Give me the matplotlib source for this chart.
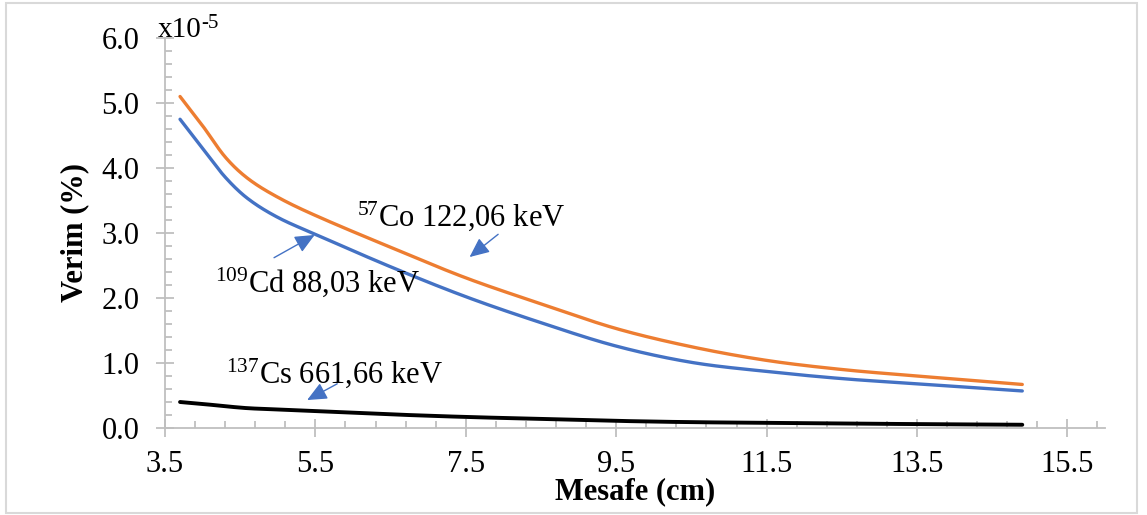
import numpy as np
import matplotlib
matplotlib.use("Agg")
import matplotlib.pyplot as plt
from matplotlib.patches import Rectangle

plt.rcParams['font.family'] = ['Liberation Serif', 'DejaVu Serif']
plt.rcParams['mathtext.fontset'] = 'custom'
plt.rcParams['mathtext.rm'] = 'Liberation Serif'
plt.rcParams['mathtext.it'] = 'Liberation Serif:italic'
plt.rcParams['mathtext.bf'] = 'Liberation Serif:bold'

# distance (cm) and efficiency (x10^-5 %)
mesafe = [3.7, 4.0, 4.3, 4.6, 5.0, 5.5, 6.5, 7.5, 8.5, 9.5, 10.5, 11.5, 12.5, 13.5, 14.9]
co57 = [5.10, 4.65, 4.17, 3.84, 3.55, 3.27, 2.78, 2.31, 1.91, 1.53, 1.25, 1.04, 0.90, 0.80, 0.67]
cd109 = [4.75, 4.30, 3.86, 3.53, 3.24, 2.98, 2.48, 2.02, 1.62, 1.26, 1.01, 0.87, 0.76, 0.68, 0.57]
cs137 = [0.40, 0.37, 0.335, 0.305, 0.285, 0.26, 0.21, 0.17, 0.14, 0.11, 0.09, 0.08, 0.07, 0.06, 0.05]

x_ticks = [3.5, 5.5, 7.5, 9.5, 11.5, 13.5, 15.5]
y_ticks = [0.0, 1.0, 2.0, 3.0, 4.0, 5.0, 6.0]

FS = 22


def smooth(xs, ys, n=40):
    # cubic Hermite curve through the points (cardinal slopes)
    x = np.asarray(xs, float)
    y = np.asarray(ys, float)
    m = np.empty_like(y)
    m[1:-1] = (y[2:] - y[:-2]) / (x[2:] - x[:-2])
    m[0] = (y[1] - y[0]) / (x[1] - x[0])
    m[-1] = (y[-1] - y[-2]) / (x[-1] - x[-2])
    px, py = [], []
    for i in range(len(x) - 1):
        h = x[i + 1] - x[i]
        t = np.linspace(0, 1, n, endpoint=False)
        h00 = 2 * t ** 3 - 3 * t ** 2 + 1
        h10 = t ** 3 - 2 * t ** 2 + t
        h01 = -2 * t ** 3 + 3 * t ** 2
        h11 = t ** 3 - t ** 2
        px.append(x[i] + t * h)
        py.append(h00 * y[i] + h10 * h * m[i] + h01 * y[i + 1] + h11 * h * m[i + 1])
    px.append([x[-1]])
    py.append([y[-1]])
    return np.concatenate(px), np.concatenate(py)


fig = plt.figure(figsize=(11.47, 5.15), dpi=100)
ax = fig.add_axes([165 / 1147, 1 - 428 / 515, 940 / 1147, 390 / 515])

for ys, c, lw in [(co57, '#ED7D31', 2.4), (cd109, '#4472C4', 2.4), (cs137, '#000000', 2.8)]:
    sx, sy = smooth(mesafe, ys)
    ax.plot(sx, sy, color=c, lw=lw, solid_capstyle='round', zorder=3)

ax.set_xlim(3.5, 16.0)
ax.set_ylim(0, 6.0)
ax.set_xticks(x_ticks)
ax.set_xticklabels([f"{v:.1f}" for v in x_ticks])
ax.set_yticks(y_ticks)
ax.set_yticklabels([f"{v:.1f}" for v in y_ticks])
ax.set_xticks(np.arange(3.5, 16.01, 0.4), minor=True)
ax.set_yticks(np.arange(0, 6.01, 0.2), minor=True)

for s in ['top', 'right']:
    ax.spines[s].set_visible(False)
for s in ['left', 'bottom']:
    ax.spines[s].set_color('#BFBFBF')
    ax.spines[s].set_linewidth(1.3)

ax.tick_params(which='major', direction='inout', length=13, width=1.3, color='#BFBFBF',
               labelsize=FS)
ax.tick_params(which='minor', direction='in', length=5, width=1.3, color='#BFBFBF')
ax.tick_params(axis='y', which='major', pad=12)
ax.tick_params(axis='x', which='major', pad=9)

ax.set_xlabel('Mesafe (cm)', fontsize=FS, fontweight='bold', va='center')
ax.xaxis.set_label_coords(0.5, (428 - 492) / 390)
ax.set_ylabel('Verim (%)', fontsize=FS, fontweight='bold', va='center')
ax.yaxis.set_label_coords((75 - 165) / 940, 0.5)

# curve labels with arrows
ax.text(6.05, 3.26, r'$\mathregular{^{57}}$Co 122,06 keV', fontsize=FS, va='center', ha='left')
ax.text(4.16, 2.25, r'$\mathregular{^{109}}$Cd 88,03 keV', fontsize=FS, va='center', ha='left')
ax.text(4.31, 0.85, r'$\mathregular{^{137}}$Cs 661,66 keV', fontsize=FS, va='center', ha='left')

arrow = dict(arrowstyle='-|>,head_length=1.0,head_width=0.45', color='#4472C4',
             lw=1.0, mutation_scale=12, shrinkA=0, shrinkB=0)
ax.annotate('', xy=(7.55, 2.63), xytext=(7.93, 2.98), arrowprops=arrow)
ax.annotate('', xy=(5.49, 2.97), xytext=(4.95, 2.62), arrowprops=arrow)
ax.annotate('', xy=(5.39, 0.43), xytext=(5.79, 0.68), arrowprops=arrow)

# axis multiplier
fig.text(158 / 1147, 1 - 37 / 515, 'x10', fontsize=21, ha='left', va='baseline')
fig.text(201 / 1147, 1 - 28 / 515, '-5', fontsize=15, ha='left', va='baseline')

# outer frame
fig.patches.append(Rectangle((6 / 1147, 2 / 515), 1131 / 1147, 510 / 515, transform=fig.transFigure,
                             fill=False, edgecolor='#D9D9D9', lw=1.5))

fig.savefig('out.png', dpi=100)
